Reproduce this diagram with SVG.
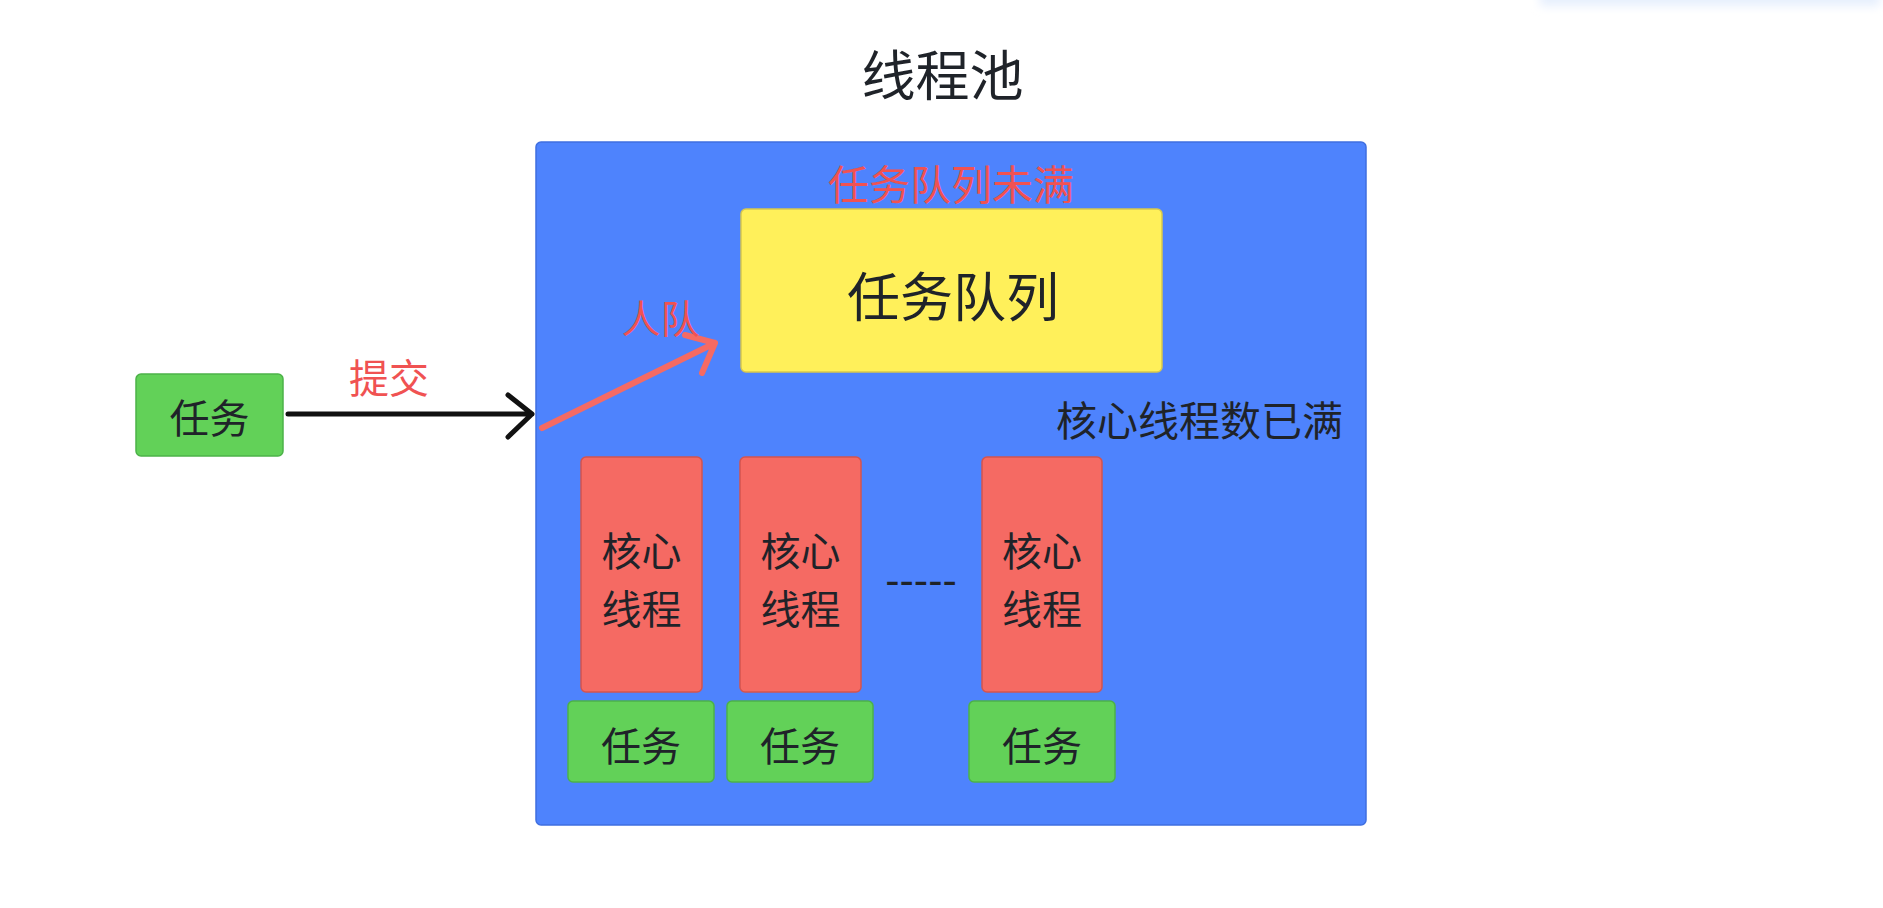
<svg xmlns="http://www.w3.org/2000/svg" width="1883" height="908" viewBox="0 0 1883 908">
<defs>
<filter id="soft" x="-20%" y="-200%" width="140%" height="500%"><feGaussianBlur stdDeviation="5"/></filter>
</defs>
<style>
text{font-family:"Noto Sans CJK SC","Noto Sans",sans-serif;text-anchor:middle;dominant-baseline:central;fill:#1f2329}
.red{fill:#f05252}
.task rect{fill:#62d158;stroke:#4cb248;stroke-width:1.5}
.core rect{fill:#f56a63;stroke:#d4544f;stroke-width:1.5}
.t40{font-size:40px}
</style>
<rect width="1883" height="908" fill="#ffffff"/>
<rect x="1540" y="-12" width="340" height="18" fill="#e6effd" filter="url(#soft)"/>

<g id="title"><text x="942.5" y="72" font-size="54">线程池</text></g>

<g id="pool">
<rect x="536" y="142" width="830" height="683" rx="5" fill="#4e83fd" stroke="#3f6fe0" stroke-width="1.5"/>
<text class="red" x="951" y="182" font-size="41">任务队列未满</text>
<text x="1199.5" y="418" font-size="41">核心线程数已满</text>
</g>

<g id="queue">
<rect x="741" y="209" width="421" height="163" rx="5" fill="#fff05a" stroke="#d8c84e" stroke-width="1.5"/>
<text x="953" y="294" font-size="53">任务队列</text>
</g>

<g id="task-in" class="task">
<rect x="136" y="374" width="147" height="82" rx="5"/>
<text x="209.5" y="416" class="t40">任务</text>
</g>

<g id="core1" class="core">
<rect x="581" y="457" width="121" height="235" rx="5"/>
<text x="641.5" y="548.5" class="t40">核心</text>
<text x="641.5" y="606.5" class="t40">线程</text>
</g>
<g id="core2" class="core">
<rect x="740" y="457" width="121" height="235" rx="5"/>
<text x="800.5" y="548.5" class="t40">核心</text>
<text x="800.5" y="606.5" class="t40">线程</text>
</g>
<g id="core3" class="core">
<rect x="982" y="457" width="120" height="235" rx="5"/>
<text x="1042" y="548.5" class="t40">核心</text>
<text x="1042" y="606.5" class="t40">线程</text>
</g>

<g id="dots"><text x="921" y="580" font-size="43" style="font-family:'Liberation Sans',sans-serif">-----</text></g>

<g id="task1" class="task">
<rect x="568" y="701" width="146" height="81" rx="5"/>
<text x="641" y="744" class="t40">任务</text>
</g>
<g id="task2" class="task">
<rect x="727" y="701" width="146" height="81" rx="5"/>
<text x="800" y="744" class="t40">任务</text>
</g>
<g id="task3" class="task">
<rect x="969" y="701" width="146" height="81" rx="5"/>
<text x="1042" y="744" class="t40">任务</text>
</g>

<g id="connectors" fill="none" stroke-linecap="round" stroke-linejoin="round">
<path d="M288 414 H532 M508 395 L532 414 L508 437" stroke="#111111" stroke-width="5"/>
<path d="M542 428 L715 343 M685 335 L715 343 L702 373" stroke="#f56a63" stroke-width="6"/>
<text class="red" x="389" y="376" font-size="40" stroke="none">提交</text>
<text class="red" x="660.5" y="316" font-size="39" stroke="none">人队</text>
</g>
</svg>
